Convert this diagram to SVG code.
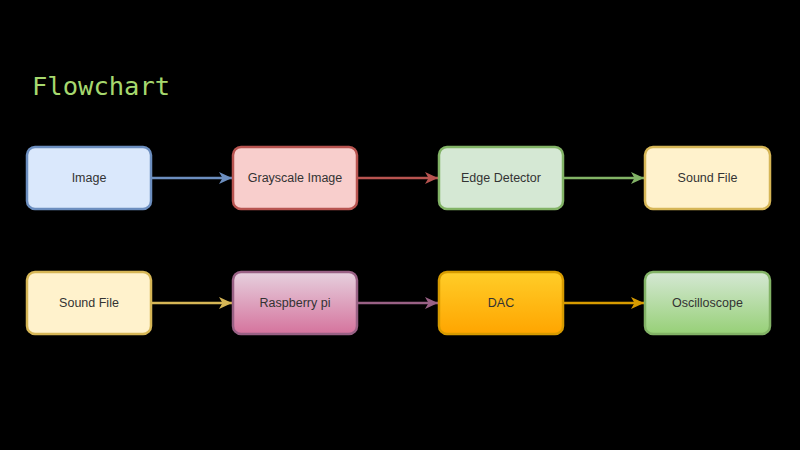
<svg xmlns="http://www.w3.org/2000/svg" width="800" height="450" viewBox="0 0 800 450">
<defs>
<style>
.box{stroke-width:2.5}
.lbl{font-family:"Liberation Sans",Arial,sans-serif;font-size:12.5px;fill:#333;text-anchor:middle;dominant-baseline:central}
.con{fill:none;stroke-width:2.5}
</style>
<linearGradient id="gPi" x1="0" y1="0" x2="0" y2="1"><stop offset="0" stop-color="#e6d0de"/><stop offset="1" stop-color="#d5739d"/></linearGradient>
<linearGradient id="gDac" x1="0" y1="0" x2="0" y2="1"><stop offset="0" stop-color="#ffcd28"/><stop offset="1" stop-color="#ffa500"/></linearGradient>
<linearGradient id="gOsc" x1="0" y1="0" x2="0" y2="1"><stop offset="0" stop-color="#d5e8d4"/><stop offset="1" stop-color="#97d077"/></linearGradient>
<marker id="mBlue" markerWidth="14" markerHeight="14" refX="13" refY="7" orient="auto" markerUnits="userSpaceOnUse"><path d="M0,1 L13,7 L0,13 L3.5,7 Z" fill="#6c8ebf"/></marker>
<marker id="mRed" markerWidth="14" markerHeight="14" refX="13" refY="7" orient="auto" markerUnits="userSpaceOnUse"><path d="M0,1 L13,7 L0,13 L3.5,7 Z" fill="#b85450"/></marker>
<marker id="mGreen" markerWidth="14" markerHeight="14" refX="13" refY="7" orient="auto" markerUnits="userSpaceOnUse"><path d="M0,1 L13,7 L0,13 L3.5,7 Z" fill="#82b366"/></marker>
<marker id="mYel" markerWidth="14" markerHeight="14" refX="13" refY="7" orient="auto" markerUnits="userSpaceOnUse"><path d="M0,1 L13,7 L0,13 L3.5,7 Z" fill="#d6b656"/></marker>
<marker id="mPur" markerWidth="14" markerHeight="14" refX="13" refY="7" orient="auto" markerUnits="userSpaceOnUse"><path d="M0,1 L13,7 L0,13 L3.5,7 Z" fill="#996185"/></marker>
<marker id="mOr" markerWidth="14" markerHeight="14" refX="13" refY="7" orient="auto" markerUnits="userSpaceOnUse"><path d="M0,1 L13,7 L0,13 L3.5,7 Z" fill="#d79b00"/></marker>
</defs>
<rect width="800" height="450" fill="#000"/>
<text x="32" y="95" font-family="'DejaVu Sans Mono','Liberation Mono',monospace" font-size="25.5" fill="#a6d86e">Flowchart</text>
<g id="connectors">
<path class="con" d="M152,178 H232" stroke="#6c8ebf" marker-end="url(#mBlue)"/>
<path class="con" d="M358,178 H438" stroke="#b85450" marker-end="url(#mRed)"/>
<path class="con" d="M564,178 H644" stroke="#82b366" marker-end="url(#mGreen)"/>
<path class="con" d="M152,303 H232" stroke="#d6b656" marker-end="url(#mYel)"/>
<path class="con" d="M358,303 H438" stroke="#996185" marker-end="url(#mPur)"/>
<path class="con" d="M564,303 H644" stroke="#d79b00" marker-end="url(#mOr)"/>
</g>
<g id="image"><rect class="box" x="27" y="147" width="124" height="62" rx="8" fill="#dae8fc" stroke="#6c8ebf"/><text class="lbl" x="89" y="178">Image</text></g>
<g id="grayscale"><rect class="box" x="233" y="147" width="124" height="62" rx="8" fill="#f8cecc" stroke="#b85450"/><text class="lbl" x="295" y="178">Grayscale Image</text></g>
<g id="edge"><rect class="box" x="439" y="147" width="124" height="62" rx="8" fill="#d5e8d4" stroke="#82b366"/><text class="lbl" x="501" y="178">Edge Detector</text></g>
<g id="sound1"><rect class="box" x="645" y="147" width="125" height="62" rx="8" fill="#fff2cc" stroke="#d6b656"/><text class="lbl" x="707.5" y="178">Sound File</text></g>
<g id="sound2"><rect class="box" x="27" y="272" width="124" height="62" rx="8" fill="#fff2cc" stroke="#d6b656"/><text class="lbl" x="89" y="303">Sound File</text></g>
<g id="raspberry"><rect class="box" x="233" y="272" width="124" height="62" rx="8" fill="url(#gPi)" stroke="#996185"/><text class="lbl" x="295" y="303">Raspberry pi</text></g>
<g id="dac"><rect class="box" x="439" y="272" width="124" height="62" rx="8" fill="url(#gDac)" stroke="#d79b00"/><text class="lbl" x="501" y="303">DAC</text></g>
<g id="osc"><rect class="box" x="645" y="272" width="125" height="62" rx="8" fill="url(#gOsc)" stroke="#82b366"/><text class="lbl" x="707.5" y="303">Oscilloscope</text></g>
</svg>
